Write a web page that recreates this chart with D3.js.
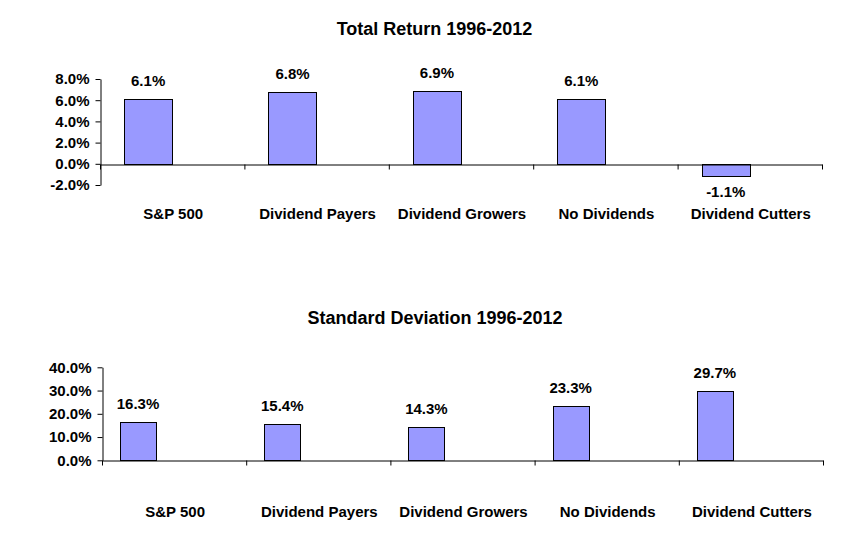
<!DOCTYPE html>
<html>
<head>
<meta charset="utf-8">
<script src="https://cdn.jsdelivr.net/npm/d3@7/dist/d3.min.js"></script>
<style>
  html, body { margin: 0; padding: 0; background: #fff; }
  svg text { font-family: "Liberation Sans", Arial, sans-serif; font-weight: bold; fill: #000; }
</style>
</head>
<body>
<svg id="chart" width="850" height="549"></svg>
<script>
const categories = ["S&P 500", "Dividend Payers", "Dividend Growers", "No Dividends", "Dividend Cutters"];
const totalReturn = [6.1, 6.8, 6.9, 6.1, -1.1];
const stdDev = [16.3, 15.4, 14.3, 23.3, 29.7];
const returnTicks = [-2, 0, 2, 4, 6, 8];
const sdTicks = [0, 10, 20, 30, 40];
const titles = ["Total Return 1996-2012", "Standard Deviation 1996-2012"];

const svg = d3.select("#chart");
const fmt = v => v.toFixed(1) + "%";

function panel(opts) {
  const g = svg.append("g");
  const x = d3.scaleBand().domain(categories).range(opts.xRange).paddingInner(0).paddingOuter(0);
  const sub = d3.scaleBand().domain(opts.seriesSlots).range([0, x.bandwidth()]).paddingInner(0).paddingOuter(0.5);
  const y = d3.scaleLinear().domain(opts.yDomain).range(opts.yRange);

  // title
  g.append("text").attr("x", opts.titleX).attr("y", opts.titleY)
    .attr("text-anchor", "middle").style("font-size", "18px").text(opts.title);

  // y axis
  const yAxis = d3.axisLeft(y).tickValues(opts.ticks).tickFormat(fmt).tickSize(5).tickSizeOuter(0).tickPadding(6);
  const ya = g.append("g").attr("transform", `translate(${Math.round(opts.xRange[0]) + 0.5},0)`).call(yAxis);
  ya.selectAll("path, line").attr("stroke", "#000").attr("stroke-width", 1);
  ya.selectAll("text").style("font-size", "15px").attr("font-family", null);

  // bars
  const data = categories.map((c, i) => ({ c, v: opts.values[i] }));
  g.selectAll("rect.bar").data(data).join("rect").attr("class", "bar")
    .attr("x", d => Math.round(x(d.c) + sub(opts.seriesSlots[0])) + 0.5)
    .attr("width", Math.round(sub.bandwidth()))
    .attr("y", d => Math.round(y(Math.max(0, d.v))) + 0.5)
    .attr("height", d => Math.round(Math.abs(y(d.v) - y(0))))
    .attr("fill", "#9999FF").attr("stroke", "#000").attr("stroke-width", 1);

  // x axis at zero with boundary ticks
  const y0 = Math.round(y(0)) + 0.5;
  const idx = d3.scaleLinear().domain([0, categories.length]).range(opts.xRange);
  const xAxis = d3.axisBottom(idx).tickValues(d3.range(categories.length + 1)).tickFormat("").tickSize(5).tickSizeOuter(0);
  const xa = g.append("g").attr("transform", `translate(0,${y0})`).call(xAxis);
  xa.selectAll("path, line").attr("stroke", "#000").attr("stroke-width", 1);

  // value labels
  g.selectAll("text.val").data(data).join("text").attr("class", "val")
    .attr("x", d => x(d.c) + sub(opts.seriesSlots[0]) + sub.bandwidth() / 2)
    .attr("y", d => d.v >= 0 ? y(d.v) - 13 : y(d.v) + 22)
    .attr("text-anchor", "middle").style("font-size", "15px")
    .text(d => fmt(d.v));

  // category labels
  g.selectAll("text.cat").data(categories).join("text").attr("class", "cat")
    .attr("x", d => x(d) + x.bandwidth() / 2 + 1)
    .attr("y", opts.catY)
    .attr("text-anchor", "middle").style("font-size", "15px")
    .text(d => d);
}

panel({
  title: titles[0], titleX: 434.5, titleY: 35,
  values: totalReturn, ticks: returnTicks,
  xRange: [100, 822], yDomain: [-2, 8], yRange: [185, 79],
  seriesSlots: ["return", "empty"], catY: 219
});

panel({
  title: titles[1], titleX: 435, titleY: 324,
  values: stdDev, ticks: sdTicks,
  xRange: [102, 823], yDomain: [0, 40], yRange: [460.3, 367.3],
  seriesSlots: ["sd", "empty1", "empty2"], catY: 517
});
</script>
</body>
</html>
